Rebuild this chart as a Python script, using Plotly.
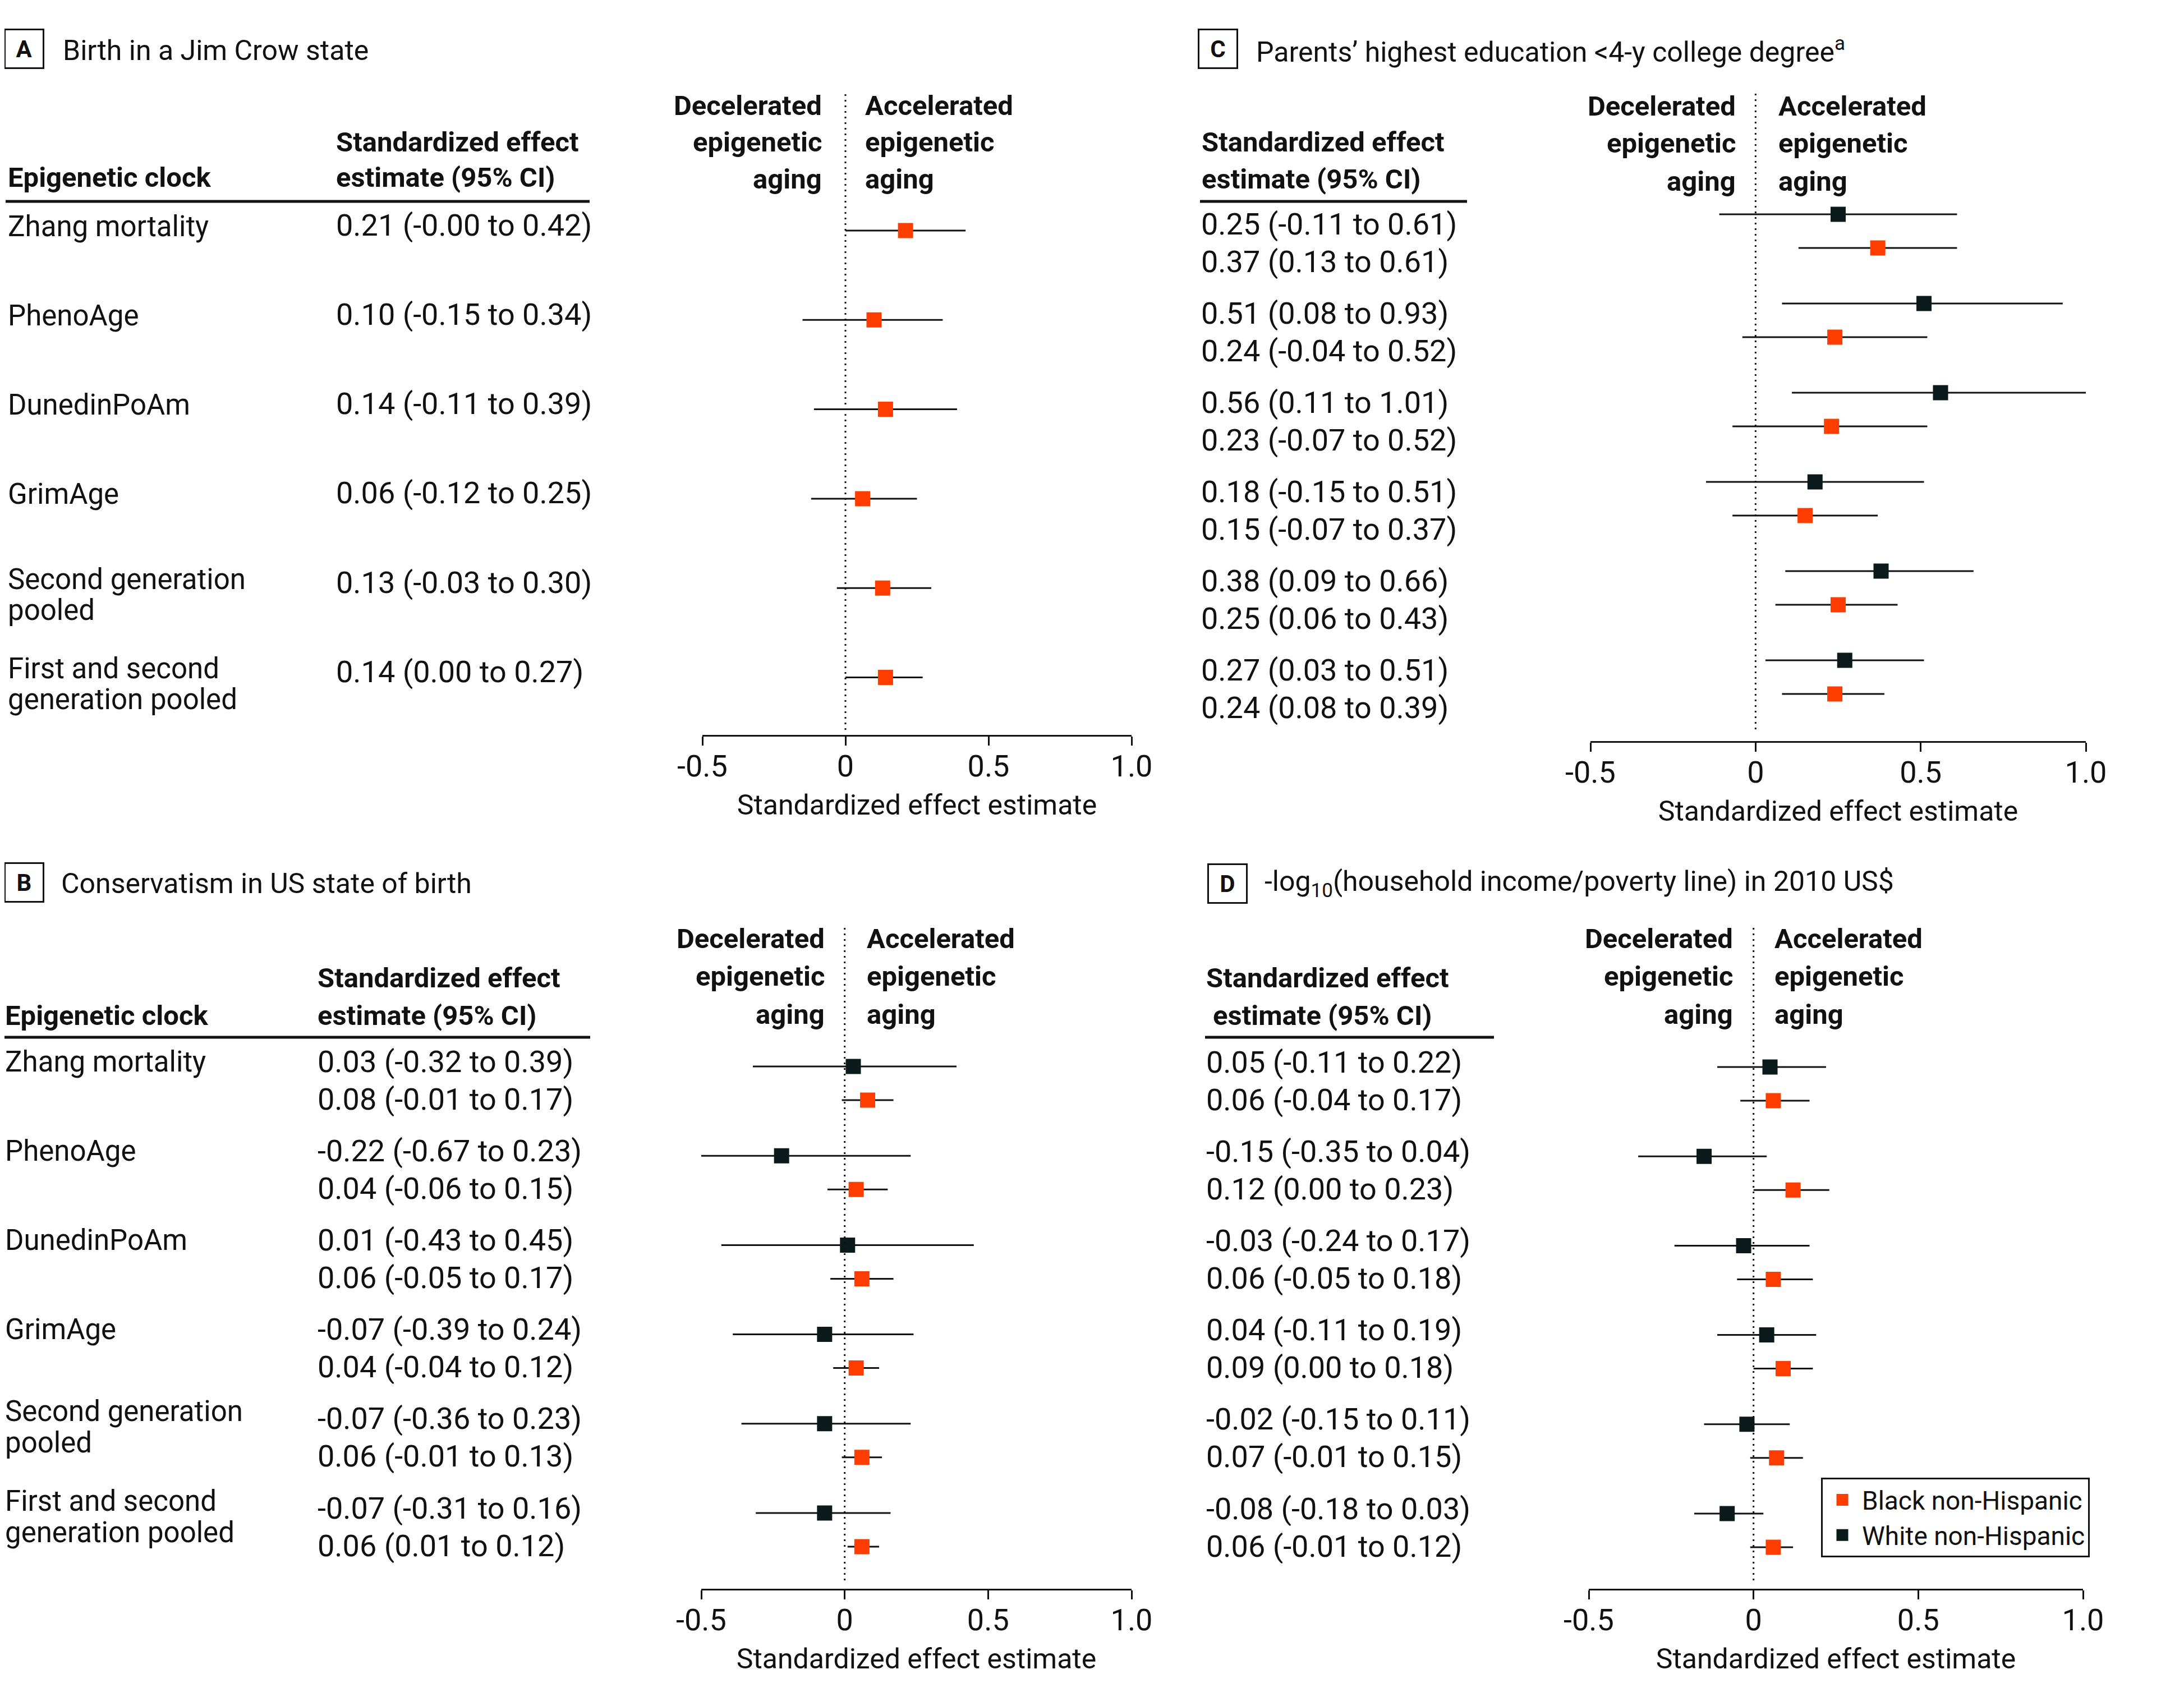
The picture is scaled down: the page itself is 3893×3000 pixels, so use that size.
import plotly.graph_objects as go

W, H = 3893, 3000

# ---------------- data ----------------
clock_lines = [["Zhang mortality"], ["PhenoAge"], ["DunedinPoAm"], ["GrimAge"],
               ["Second generation", "pooled"], ["First and second", "generation pooled"]]

# Panel A: Birth in a Jim Crow state (Black non-Hispanic only)
a_black_est = [0.21, 0.10, 0.14, 0.06, 0.13, 0.14]
a_black_lo = [-0.00, -0.15, -0.11, -0.12, -0.03, 0.00]
a_black_hi = [0.42, 0.34, 0.39, 0.25, 0.30, 0.27]

# Panel B: Conservatism in US state of birth
b_white_est = [0.03, -0.22, 0.01, -0.07, -0.07, -0.07]
b_white_lo = [-0.32, -0.67, -0.43, -0.39, -0.36, -0.31]
b_white_hi = [0.39, 0.23, 0.45, 0.24, 0.23, 0.16]
b_black_est = [0.08, 0.04, 0.06, 0.04, 0.06, 0.06]
b_black_lo = [-0.01, -0.06, -0.05, -0.04, -0.01, 0.01]
b_black_hi = [0.17, 0.15, 0.17, 0.12, 0.13, 0.12]

# Panel C: Parents' highest education <4-y college degree
c_white_est = [0.25, 0.51, 0.56, 0.18, 0.38, 0.27]
c_white_lo = [-0.11, 0.08, 0.11, -0.15, 0.09, 0.03]
c_white_hi = [0.61, 0.93, 1.01, 0.51, 0.66, 0.51]
c_black_est = [0.37, 0.24, 0.23, 0.15, 0.25, 0.24]
c_black_lo = [0.13, -0.04, -0.07, -0.07, 0.06, 0.08]
c_black_hi = [0.61, 0.52, 0.52, 0.37, 0.43, 0.39]

# Panel D: -log10(household income/poverty line)
d_white_est = [0.05, -0.15, -0.03, 0.04, -0.02, -0.08]
d_white_lo = [-0.11, -0.35, -0.24, -0.11, -0.15, -0.18]
d_white_hi = [0.22, 0.04, 0.17, 0.19, 0.11, 0.03]
d_black_est = [0.06, 0.12, 0.06, 0.09, 0.07, 0.06]
d_black_lo = [-0.04, 0.00, -0.05, 0.00, -0.01, -0.01]
d_black_hi = [0.17, 0.23, 0.18, 0.18, 0.15, 0.12]

tick_vals = [-0.5, 0, 0.5, 1.0]
tick_text = ["-0.5", "0", "0.5", "1.0"]

# ---------------- style ----------------
ORANGE = "#FF3D00"
DARK = "#0B1A1A"
INK = "#111111"
FONT = "Roboto, Liberation Sans, Arial, sans-serif"
VAL = 54      # estimate text
LAB = 51      # clock labels
TITLE = 50    # panel titles
TICK = 54
AXT = 50
BOLD = 49
OFF = 8       # page offset compensation (px)
TSHIFT = -5   # fine vertical shift of row texts (px)


def fx(p):
    return (p - OFF) / W


def fy(p):
    return 1 - (p - OFF) / H


panels = [
    dict(n=1, letter="A", title="Birth in a Jim Crow state",
         box=(43, 87), title_xy=(111, 90),
         xdom=(1252, 2017), ytop=167, ybot=1310, dotbot=1301, c0=411, step=159.3,
         series=[("Black non-Hispanic", ORANGE, a_black_est, a_black_lo, a_black_hi, 0)],
         val_off=[-5], label_x=13, lab_single=-3, lab_double=(-11, 44),
         head_clock=(13, 316), head_est=((598, 253), (598, 316)), uline=(10, 1051, 359),
         val_x=598, decel=(1466, 1541, (188, 254, 320))),
    dict(n=2, letter="B", title="Conservatism in US state of birth",
         box=(42.5, 1572.5), title_xy=(108, 1575),
         xdom=(1250, 2017), ytop=1654, ybot=2832, dotbot=2817, c0=1931, step=159.2,
         series=[("White non-Hispanic", DARK, b_white_est, b_white_lo, b_white_hi, -30),
                 ("Black non-Hispanic", ORANGE, b_black_est, b_black_lo, b_black_hi, 30)],
         val_off=[-34, 33], label_x=8, lab_single=-34, lab_double=(-47, 9),
         head_clock=(8, 1810), head_est=((565, 1743), (565, 1810)), uline=(8, 1052, 1849),
         val_x=565, decel=(1471, 1544, (1673, 1740, 1808))),
    dict(n=3, letter="C", title="Parents\u2019 highest education &lt;4-y college degree<sup>a</sup>",
         box=(2170.5, 87.5), title_xy=(2238, 89),
         xdom=(2835, 3718), ytop=165, ybot=1321, dotbot=1300, c0=412, step=159.0,
         series=[("White non-Hispanic", DARK, c_white_est, c_white_lo, c_white_hi, -30),
                 ("Black non-Hispanic", ORANGE, c_black_est, c_black_lo, c_black_hi, 30)],
         val_off=[-8, 59], label_x=None, lab_single=0, lab_double=(0, 0),
         head_clock=None, head_est=((2141, 254), (2141, 320)), uline=(2139, 2615, 359),
         val_x=2140, decel=(3095, 3169, (189, 255, 324))),
    dict(n=4, letter="D", title="-log<sub>10</sub>(household income/poverty line) in 2010 US$",
         box=(2188, 1574.5), title_xy=(2253, 1575),
         xdom=(2832, 3713), ytop=1654, ybot=2832, dotbot=2817, c0=1932, step=159.2,
         series=[("White non-Hispanic", DARK, d_white_est, d_white_lo, d_white_hi, -30),
                 ("Black non-Hispanic", ORANGE, d_black_est, d_black_lo, d_black_hi, 30)],
         val_off=[-34, 33], label_x=None, lab_single=0, lab_double=(0, 0),
         head_clock=None, head_est=((2149, 1743), (2161, 1810)), uline=(2148, 2663, 1849),
         val_x=2149, decel=(3090, 3162, (1673, 1740, 1808))),
]

fig = go.Figure()
annotations = []
shapes = []
layout = {}


def txt(x, y, text, size=VAL, xanchor="left", yref="paper", bold=False):
    annotations.append(dict(
        x=x, y=y, xref="paper", yref=yref, text=("<b>%s</b>" % text) if bold else text,
        showarrow=False, xanchor=xanchor, yanchor="middle", align=xanchor,
        font=dict(family=FONT, size=size, color=INK), borderpad=0))


for p in panels:
    n = p["n"]
    xa = "x" if n == 1 else "x%d" % n
    ya = "y" if n == 1 else "y%d" % n
    c0, step = p["c0"], p["step"]

    def dy(px, c0=c0, step=step):
        return (px - c0) / step

    # traces
    for (name, col, est, lo, hi, off) in p["series"]:
        fig.add_trace(go.Scatter(
            x=est, y=[i + off / step for i in range(len(est))],
            mode="markers", name=name,
            marker=dict(symbol="square", size=22, color=col, line=dict(color=col, width=5)),
            error_x=dict(type="data", symmetric=False,
                         array=[h - e for e, h in zip(est, hi)],
                         arrayminus=[e - l for e, l in zip(est, lo)],
                         thickness=3, width=0, color=INK),
            xaxis=xa, yaxis=ya, cliponaxis=False,
            showlegend=(n == 4), legendrank=(1 if col == ORANGE else 2)))

    # axes
    layout["xaxis" if n == 1 else "xaxis%d" % n] = dict(
        domain=[fx(p["xdom"][0]), fx(p["xdom"][1])], range=[-0.5, 1.0], anchor=ya,
        automargin=False,
        showgrid=False, zeroline=False, showline=True, linewidth=3, linecolor=INK,
        ticks="outside", ticklen=16, tickwidth=3, tickcolor=INK,
        tickvals=tick_vals, ticktext=tick_text, ticklabelstandoff=-10,
        tickfont=dict(family=FONT, size=TICK, color=INK),
        title=dict(text="Standardized effect estimate", font=dict(family=FONT, size=AXT, color=INK), standoff=22),
        fixedrange=True)
    layout["yaxis" if n == 1 else "yaxis%d" % n] = dict(
        domain=[fy(p["ybot"]), fy(p["ytop"])], range=[dy(p["ybot"]), dy(p["ytop"])],
        anchor=xa, visible=False, automargin=False, fixedrange=True)

    # dotted reference line at 0
    shapes.append(dict(type="line", xref=xa, yref="paper", x0=0, x1=0,
                       y0=fy(p["dotbot"]), y1=fy(p["ytop"]),
                       line=dict(color=INK, width=3, dash="3px,7px")))

    # panel letter box + title
    annotations.append(dict(
        x=fx(p["box"][0]), y=fy(p["box"][1]), xref="paper", yref="paper",
        text="<b>%s</b>" % p["letter"], showarrow=False, xanchor="center", yanchor="middle",
        width=66, height=66, borderpad=0, bordercolor=INK, borderwidth=3,
        font=dict(family=FONT, size=42, color=INK)))
    txt(fx(p["title_xy"][0]), fy(p["title_xy"][1]), p["title"], size=TITLE)

    # headers
    if p["head_clock"]:
        txt(fx(p["head_clock"][0]), fy(p["head_clock"][1]), "Epigenetic clock", size=BOLD, bold=True)
    txt(fx(p["head_est"][0][0]), fy(p["head_est"][0][1]), "Standardized effect", size=BOLD, bold=True)
    txt(fx(p["head_est"][1][0]), fy(p["head_est"][1][1]), "estimate (95% CI)", size=BOLD, bold=True)
    u = p["uline"]
    shapes.append(dict(type="line", xref="paper", yref="paper", x0=fx(u[0]), x1=fx(u[1]),
                       y0=fy(u[2]), y1=fy(u[2]), line=dict(color=INK, width=5)))

    # decelerated / accelerated
    rx, lx, ys = p["decel"]
    for word_l, word_r, yy in zip(["Decelerated", "epigenetic", "aging"],
                                  ["Accelerated", "epigenetic", "aging"], ys):
        txt(fx(rx), fy(yy), word_l, size=BOLD, xanchor="right", bold=True)
        txt(fx(lx), fy(yy), word_r, size=BOLD, bold=True)

    # row labels
    if p["label_x"] is not None:
        for i, lines in enumerate(clock_lines):
            cy = c0 + i * step + TSHIFT
            if len(lines) == 1:
                txt(fx(p["label_x"]), dy(cy + p["lab_single"]), lines[0], size=LAB, yref=ya)
            else:
                for k, line in enumerate(lines):
                    txt(fx(p["label_x"]), dy(cy + p["lab_double"][k]), line, size=LAB, yref=ya)

    # estimate text
    for s_idx, (name, col, est, lo, hi, off) in enumerate(p["series"]):
        for i in range(len(est)):
            cy = c0 + i * step + p["val_off"][s_idx] + TSHIFT
            s = "%.2f (%.2f to %.2f)" % (est[i], lo[i], hi[i])
            txt(fx(p["val_x"]), dy(cy), s, size=VAL, yref=ya)

fig.update_layout(
    width=W, height=H, margin=dict(l=0, r=0, t=0, b=0, autoexpand=False),
    paper_bgcolor="white", plot_bgcolor="white",
    font=dict(family=FONT, size=VAL, color=INK),
    annotations=annotations, shapes=shapes,
    showlegend=True,
    legend=dict(x=fx(3246), y=fy(2634), xanchor="left", yanchor="top",
                bordercolor=INK, borderwidth=3, bgcolor="white",
                font=dict(family=FONT, size=46, color=INK), tracegroupgap=0,
                itemsizing="trace", itemwidth=60, entrywidth=430,
                traceorder="normal"),
    **layout)

fig.write_html("out.html")
